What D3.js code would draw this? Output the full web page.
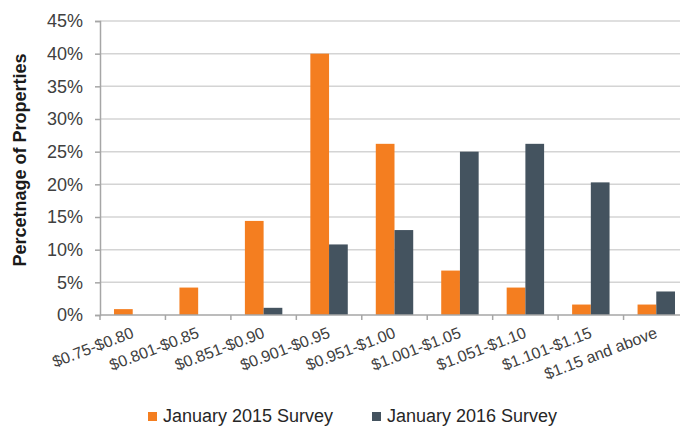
<!DOCTYPE html>
<html>
<head>
<meta charset="utf-8">
<script src="https://cdn.jsdelivr.net/npm/d3@7"></script>
<style>
  body { margin: 0; background: #fff; }
  svg { display: block; font-family: "Liberation Sans", Arial, sans-serif; }
</style>
</head>
<body>
<div id="chart"></div>
<script>
// price bands and survey results (% of properties)
var categories = ["$0.75-$0.80", "$0.801-$0.85", "$0.851-$0.90", "$0.901-$0.95", "$0.951-$1.00",
                  "$1.001-$1.05", "$1.051-$1.10", "$1.101-$1.15", "$1.15 and above"]
var series = ["January 2015 Survey", "January 2016 Survey"]
var survey2015 = [0.9, 4.2, 14.4, 40.0, 26.2, 6.8, 4.2, 1.6, 1.6]
var survey2016 = [0, 0, 1.1, 10.8, 13.0, 25.0, 26.2, 20.3, 3.6]
var yTicks = [0, 5, 10, 15, 20, 25, 30, 35, 40, 45]
var colors = ["#f47e20", "#44535f"]

var width = 680, height = 426
var margin = { top: 21, left: 100, bottom: 111, right: -9 }

var svg = d3.select("#chart").append("svg")
    .attr("width", width)
    .attr("height", height)

var x = d3.scaleBand()
    .domain(categories)
    .range([margin.left, width - margin.right])
    .paddingInner(0.428)
    .paddingOuter(0.214)

var xSub = d3.scaleBand()
    .domain(series)
    .range([0, x.bandwidth()])

var y = d3.scaleLinear()
    .domain([0, 45])
    .range([height - margin.bottom, margin.top])

// gridlines
svg.append("g")
    .selectAll("line")
    .data(yTicks.filter(d => d > 0))
    .enter().append("line")
    .attr("x1", margin.left)
    .attr("x2", width - margin.right)
    .attr("y1", d => y(d))
    .attr("y2", d => y(d))
    .attr("stroke", "#d4d4d4")
    .attr("stroke-width", 1.5)

// y axis
var yAxis = svg.append("g")
    .attr("transform", "translate(" + margin.left + ",0)")
    .call(d3.axisLeft(y).tickValues(yTicks).tickFormat(d => d + "%").tickSize(5).tickPadding(12))
yAxis.select(".domain").attr("stroke", "#a6a6a6").attr("stroke-width", 1.5)
yAxis.selectAll(".tick line").attr("stroke", "#a6a6a6").attr("stroke-width", 1.5)
yAxis.selectAll("text").attr("fill", "#404040").style("font-size", "18px")

// bars
var data = categories.map((c, i) => ({ cat: c, values: [survey2015[i], survey2016[i]] }))
var groups = svg.append("g")
    .selectAll("g")
    .data(data)
    .enter().append("g")
    .attr("transform", d => "translate(" + x(d.cat) + ",0)")

groups.selectAll("rect")
    .data(d => d.values.map((v, j) => ({ key: series[j], value: v, idx: j })))
    .enter().append("rect")
    .filter(d => d.value > 0)
    .attr("x", d => xSub(d.key))
    .attr("width", xSub.bandwidth())
    .attr("y", d => y(d.value))
    .attr("height", d => y(0) - y(d.value))
    .attr("fill", d => colors[d.idx])

// x axis
var step = x.step()
var xAxis = svg.append("g")
var base = y(0)
xAxis.append("line")
    .attr("x1", margin.left)
    .attr("x2", width - margin.right)
    .attr("y1", base)
    .attr("y2", base)
    .attr("stroke", "#a6a6a6")
    .attr("stroke-width", 1.5)
xAxis.selectAll(".tk")
    .data(d3.range(categories.length + 1))
    .enter().append("line")
    .attr("class", "tk")
    .attr("x1", i => margin.left + i * step)
    .attr("x2", i => margin.left + i * step)
    .attr("y1", base)
    .attr("y2", base + 5)
    .attr("stroke", "#a6a6a6")
    .attr("stroke-width", 1.5)
xAxis.selectAll("text")
    .data(categories)
    .enter().append("text")
    .attr("transform", d => "translate(" + (x(d) + x.bandwidth() / 2 + 2) + "," + (base + 22) + ")rotate(-21)")
    .attr("text-anchor", "end")
    .attr("fill", "#404040")
    .style("font-size", "16px")
    .text(d => d)

// y axis title
svg.append("text")
    .attr("transform", "translate(26,160)rotate(-90)")
    .attr("text-anchor", "middle")
    .attr("fill", "#1a1a1a")
    .style("font-size", "18px")
    .style("font-weight", "bold")
    .text("Percetnage of Properties")

// legend
var legendX = [148, 372]
var legend = svg.append("g")
    .selectAll("g")
    .data(series)
    .enter().append("g")
    .attr("transform", (d, i) => "translate(" + legendX[i] + ",0)")
legend.append("rect")
    .attr("y", 412)
    .attr("width", 9)
    .attr("height", 9)
    .attr("fill", (d, i) => colors[i])
legend.append("text")
    .attr("x", 15)
    .attr("y", 422)
    .attr("fill", "#262626")
    .style("font-size", "18px")
    .text(d => d)
</script>
</body>
</html>
